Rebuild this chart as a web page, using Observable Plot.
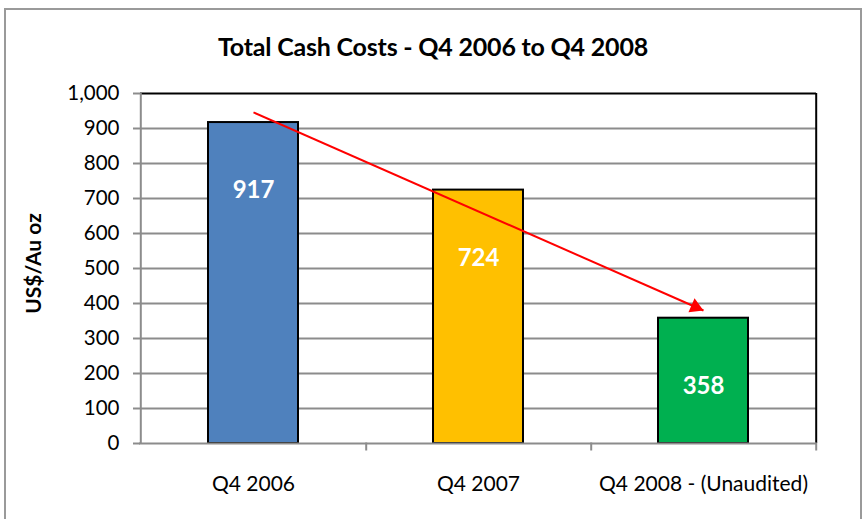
<!DOCTYPE html>
<html>
<head>
<meta charset="utf-8">
<script src="https://cdn.jsdelivr.net/npm/d3@7"></script>
<script src="https://cdn.jsdelivr.net/npm/@observablehq/plot@0.6"></script>
<style>
  html, body { margin: 0; padding: 0; background: #fff; }
  #wrap { position: relative; width: 866px; height: 519px; overflow: hidden; font-family: Lato, "Open Sans", sans-serif; }
  #frame { position: absolute; left: 4px; top: 8px; width: 858px; height: 530px; border: 2.5px solid #9a9a9a; box-sizing: border-box; }
  #title { position: absolute; left: 0; width: 866px; top: 30px; text-align: center; font-weight: bold; font-size: 25px; line-height: 32px; color: #000; letter-spacing: -0.2px; }
  #chart { position: absolute; left: 0; top: 0; }
</style>
</head>
<body>
<div id="wrap">
  <div id="frame"></div>
  <div id="chart"></div>
  <div id="title">Total Cash Costs - Q4 2006 to Q4 2008</div>
</div>
<script>
const categories = ["Q4 2006", "Q4 2007", "Q4 2008 - (Unaudited)"];
const values = [917, 724, 358];
const colors = ["#4f81bd", "#ffc000", "#00b050"];
const yTicks = [0, 100, 200, 300, 400, 500, 600, 700, 800, 900, 1000];
const trendFrom = ["Q4 2006", 946];
const trendTo = ["Q4 2008 - (Unaudited)", 380];
const yLabel = "US$/Au oz";

const data = categories.map((c, i) => ({cat: c, value: values[i], color: colors[i]}));
const trend = [{x1: trendFrom[0], y1: trendFrom[1], x2: trendTo[0], y2: trendTo[1]}];

const font = "Lato, 'Open Sans', sans-serif";

const chart = Plot.plot({
  width: 866,
  height: 519,
  marginLeft: 140,
  marginRight: 50,
  marginTop: 93,
  marginBottom: 76,
  style: {fontFamily: font, fontSize: "20px", color: "#000", background: "transparent", overflow: "visible"},
  x: {domain: categories, paddingInner: 0.6, paddingOuter: 0.3, label: null},
  y: {domain: [0, 1000], label: null},
  marks: [
    Plot.ruleY(yTicks.filter(d => d > 0 && d < 1000), {stroke: "#8c8c8c", strokeWidth: 2}),
    Plot.ruleY([1000], {stroke: "#000", strokeWidth: 2}),
    Plot.ruleX([categories[2]], {dx: 112.7, y1: 0, y2: 1000, stroke: "#000", strokeWidth: 2}),
    Plot.barY(data, {x: "cat", y: "value", fill: "color", stroke: "#000", strokeWidth: 2}),
    Plot.ruleX([categories[0]], {dx: -112.7, y1: 0, y2: 1000, stroke: "#8c8c8c", strokeWidth: 2}),
    Plot.ruleY([0], {stroke: "#8c8c8c", strokeWidth: 2, insetLeft: -1}),
    Plot.ruleX(categories, {dx: 112.7, y1: 0, y2: 0, insetTop: -4, insetBottom: -4, dy: 3.5, stroke: "#8c8c8c", strokeWidth: 2}),
    Plot.axisY({ticks: yTicks, tickFormat: d3.format(",d"), tickSize: 7, tickPadding: 14, stroke: "#8c8c8c", strokeWidth: 2, fontSize: 20.5, fill: "#000"}),
    Plot.axisX({tickSize: 0, tickPadding: 33, fontSize: 21, fill: "#000"}),
    Plot.text(data, {x: "cat", y: "value", text: d => String(d.value), dy: 68, fill: "#fff", fontWeight: "bold", fontSize: 24}),
    Plot.link(trend, {x1: "x1", y1: "y1", x2: "x2", y2: "y2", stroke: "#ff0000", strokeWidth: 2}),
    Plot.dot(trend, {x: "x2", y: "y2", symbol: "triangle", r: 5.6, fill: "#ff0000", rotate: 113.7, dx: -8, dy: -3.5}),
    Plot.text([yLabel], {frameAnchor: "left", textAnchor: "middle", dx: -106, dy: -5, rotate: -90, text: d => d, fontWeight: "bold", fontSize: 21})
  ]
});
document.getElementById("chart").appendChild(chart);
</script>
</body>
</html>
